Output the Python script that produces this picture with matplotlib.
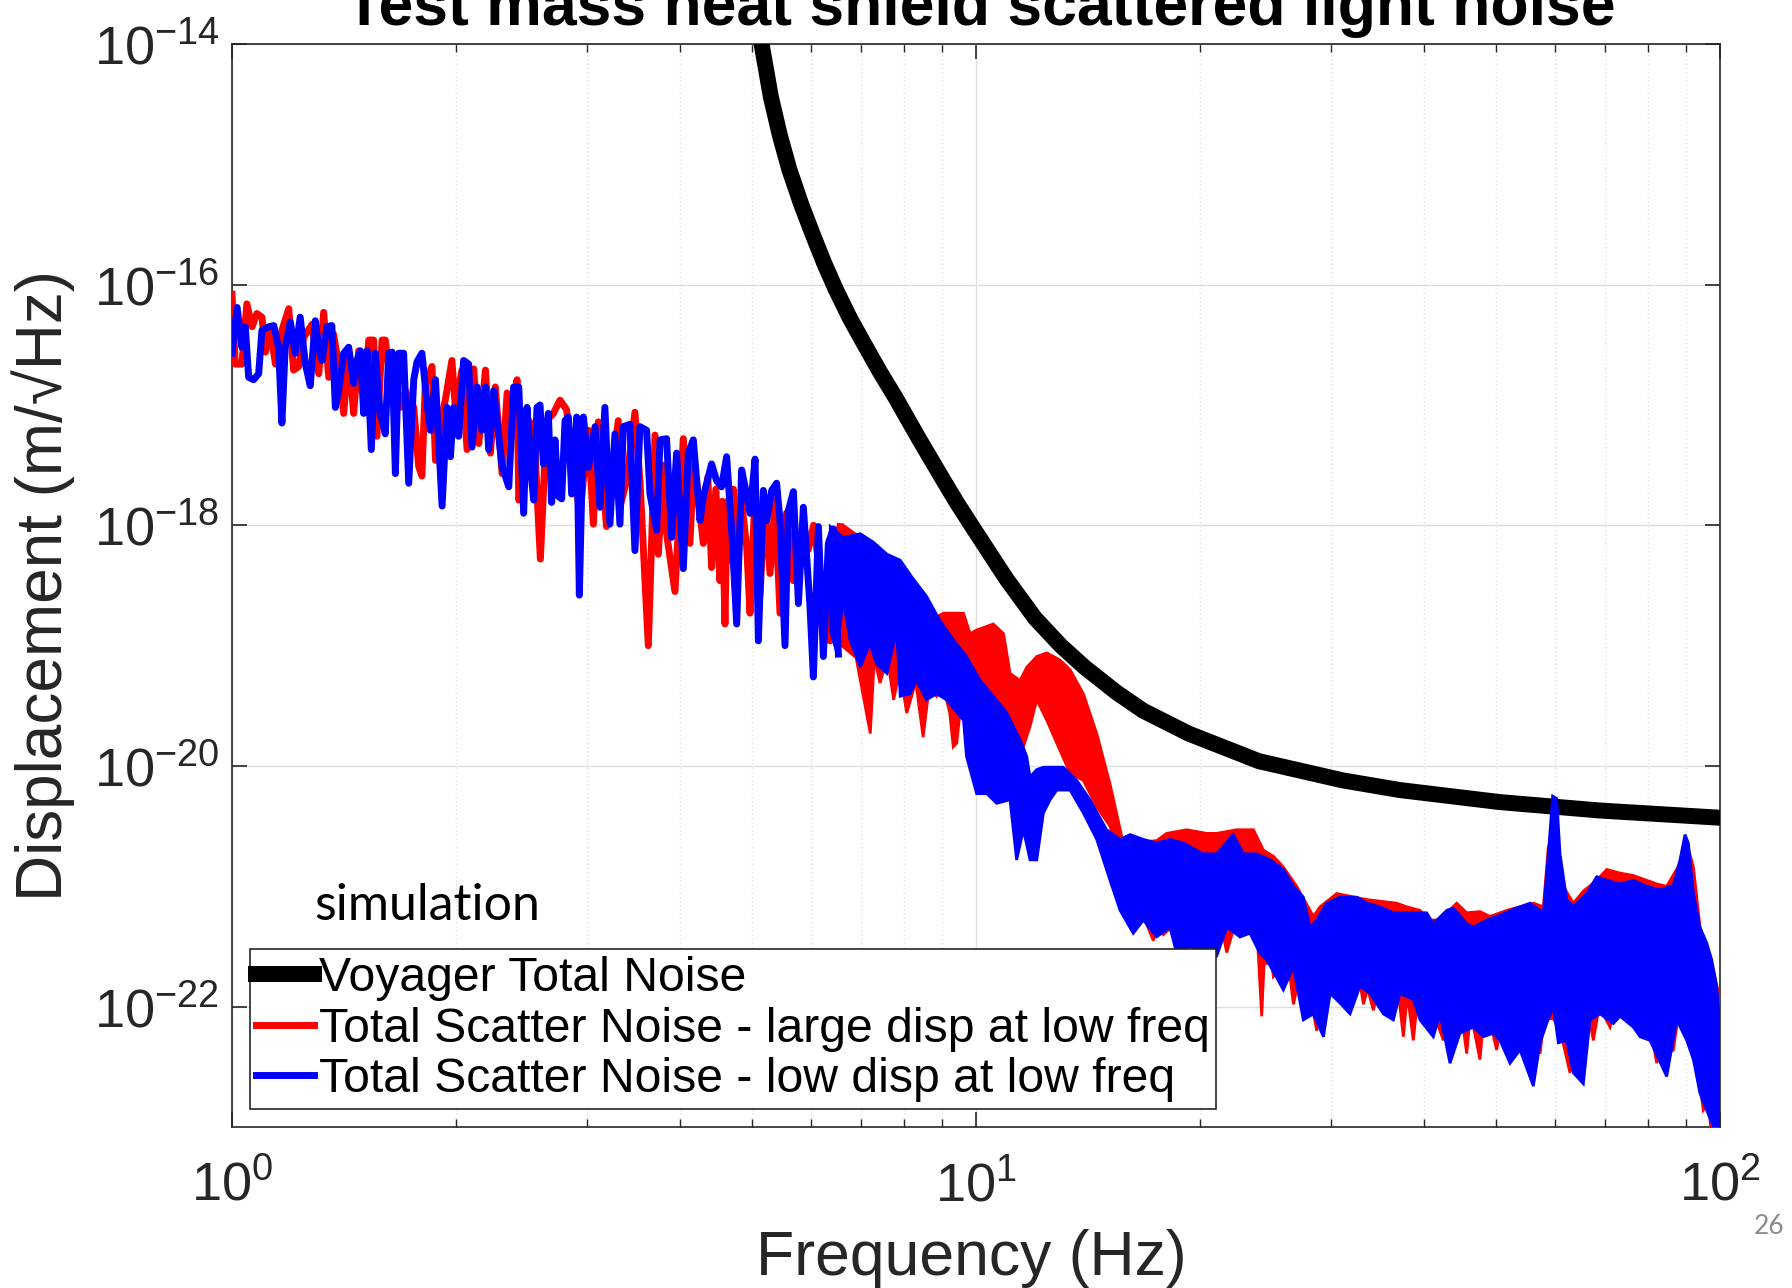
import numpy as np
import matplotlib
matplotlib.use('Agg')
import matplotlib.pyplot as plt
from matplotlib.ticker import LogLocator, NullLocator

# values: (frequency Hz, log10 displacement)
voyager = [(5.05, -13.69), (5.15, -14.00), (5.30, -14.44), (5.45, -14.76), (5.61, -15.04),
           (5.82, -15.33), (6.04, -15.59), (6.25, -15.82), (6.48, -16.04), (6.77, -16.28),
           (7.07, -16.49), (7.42, -16.72), (7.78, -16.93), (8.38, -17.28), (8.99, -17.60),
           (9.42, -17.81), (9.86, -18.00), (10.4, -18.22), (11.0, -18.45), (12.0, -18.77),
           (13.0, -19.00), (14.0, -19.18), (15.46, -19.39), (16.77, -19.54), (19.3, -19.73),
           (24.0, -19.96), (31.14, -20.12), (37.14, -20.20), (50.61, -20.30), (68.99, -20.37),
           (100.0, -20.43)]

# low frequency part, single trace
red_low = [(1.000, -16.08), (1.010, -16.66), (1.031, -16.66), (1.047, -16.16), (1.064, -16.35),
           (1.080, -16.24), (1.097, -16.27), (1.109, -16.56), (1.126, -16.38), (1.144, -16.66),
           (1.167, -16.38), (1.192, -16.20), (1.210, -16.71), (1.229, -16.68), (1.248, -16.44),
           (1.281, -16.33), (1.308, -16.74), (1.328, -16.23), (1.349, -16.77), (1.369, -16.41),
           (1.391, -16.66), (1.413, -17.07), (1.435, -16.55), (1.457, -17.07), (1.480, -16.55),
           (1.511, -16.82), (1.527, -16.46), (1.550, -16.46), (1.566, -17.26), (1.591, -16.46),
           (1.607, -16.46), (1.632, -16.79), (1.658, -16.85), (1.684, -17.02), (1.710, -16.88),
           (1.755, -17.02), (1.782, -17.51), (1.800, -17.59), (1.819, -16.82), (1.857, -16.68),
           (1.877, -17.46), (1.905, -17.15), (1.935, -16.96), (1.975, -16.63), (1.996, -17.02),
           (2.037, -16.71), (2.070, -17.37), (2.113, -16.70), (2.146, -17.32), (2.191, -16.71),
           (2.225, -17.40), (2.259, -16.85), (2.307, -17.57), (2.343, -16.90), (2.379, -17.26),
           (2.416, -16.79), (2.429, -17.79), (2.466, -17.62), (2.505, -17.13), (2.544, -17.18),
           (2.597, -18.28), (2.648, -17.13), (2.703, -17.07), (2.760, -16.96), (2.817, -17.04),
           (2.876, -17.54), (2.936, -17.90), (3.013, -17.21), (3.060, -17.99), (3.107, -17.14),
           (3.187, -18.01), (3.305, -17.13), (3.322, -17.85), (3.391, -17.63), (3.480, -17.06),
           (3.534, -17.63), (3.627, -19.00), (3.703, -17.25), (3.741, -18.24), (3.80, -17.50),
           (3.838, -18.07), (3.939, -18.55), (4.042, -17.28), (4.126, -18.15), (4.17, -17.50),
           (4.212, -17.63), (4.300, -18.15), (4.36, -17.60), (4.412, -18.35), (4.47, -17.70),
           (4.527, -18.46), (4.56, -17.80), (4.598, -18.82), (4.63, -17.80), (4.670, -18.29),
           (4.72, -17.70), (4.768, -18.54), (4.84, -17.80), (4.918, -18.18), (4.969, -18.73),
           (5.05, -17.70), (5.126, -18.57), (5.20, -17.80), (5.286, -18.40), (5.37, -17.80),
           (5.452, -18.73), (5.56, -17.90), (5.683, -18.46), (5.861, -17.99), (5.95, -18.20),
           (6.05, -18.00), (6.20, -18.50), (6.365, -18.96), (6.566, -18.01)]

blue_low = [(1.000, -16.57), (1.016, -16.19), (1.031, -16.52), (1.042, -16.35), (1.053, -16.77),
            (1.069, -16.79), (1.086, -16.74), (1.097, -16.38), (1.120, -16.35), (1.138, -16.34),
            (1.155, -16.52), (1.167, -17.15), (1.179, -16.52), (1.198, -16.31), (1.216, -16.57),
            (1.235, -16.27), (1.255, -16.66), (1.274, -16.84), (1.294, -16.30), (1.308, -16.52),
            (1.321, -16.63), (1.342, -16.35), (1.362, -16.34), (1.377, -17.02), (1.391, -16.88),
            (1.413, -16.57), (1.435, -16.52), (1.457, -16.82), (1.472, -16.63), (1.488, -16.55),
            (1.503, -17.07), (1.519, -16.55), (1.539, -17.37), (1.558, -16.57), (1.582, -17.07),
            (1.607, -17.24), (1.624, -16.57), (1.641, -16.56), (1.658, -17.57), (1.675, -16.57),
            (1.701, -16.57), (1.728, -17.65), (1.755, -16.79), (1.773, -16.64), (1.800, -16.57),
            (1.829, -16.99), (1.848, -17.21), (1.877, -16.79), (1.916, -17.84), (1.945, -17.02),
            (1.966, -17.43), (1.986, -17.02), (2.017, -17.26), (2.048, -16.63), (2.080, -16.66),
            (2.102, -17.35), (2.135, -16.85), (2.168, -17.21), (2.191, -16.85), (2.213, -17.37),
            (2.248, -16.88), (2.307, -17.51), (2.355, -17.68), (2.391, -16.85), (2.429, -16.85),
            (2.466, -17.90), (2.492, -17.02), (2.518, -17.51), (2.544, -17.79), (2.570, -17.02),
            (2.594, -17.00), (2.621, -17.49), (2.662, -17.07), (2.689, -17.81), (2.717, -17.29),
            (2.746, -17.76), (2.774, -17.78), (2.803, -17.13), (2.832, -17.10), (2.861, -17.74),
            (2.906, -17.10), (2.930, -18.58), (2.967, -17.10), (3.013, -17.52), (3.076, -17.18),
            (3.123, -17.85), (3.171, -17.02), (3.221, -17.99), (3.271, -17.24), (3.322, -17.99),
            (3.357, -17.18), (3.426, -17.16), (3.480, -18.21), (3.534, -17.18), (3.608, -17.21),
            (3.646, -17.74), (3.722, -18.04), (3.761, -17.29), (3.838, -17.28), (3.898, -18.10),
            (3.959, -17.40), (4.042, -18.36), (4.105, -17.40), (4.169, -17.29), (4.256, -17.96),
            (4.300, -17.76), (4.412, -17.49), (4.481, -17.63), (4.550, -17.68), (4.622, -17.43),
            (4.695, -18.04), (4.768, -18.82), (4.842, -17.54), (4.893, -17.68), (4.969, -17.90),
            (5.047, -17.45), (5.099, -18.96), (5.178, -17.71), (5.232, -17.96), (5.314, -17.71),
            (5.395, -17.65), (5.452, -17.96), (5.537, -19.00), (5.594, -17.88), (5.683, -17.72),
            (5.772, -18.65), (5.861, -17.85), (5.983, -18.68), (6.045, -19.26), (6.140, -18.01),
            (6.235, -19.09), (6.332, -18.15), (6.431, -18.03), (6.532, -19.07)]

# dense part above ~6 Hz: upper and lower edge of each trace
red_top = [(6.37, -18.05), (6.63, -18.00), (6.99, -18.10), (7.28, -18.17), (7.59, -18.27),
           (7.91, -18.32), (8.20, -18.45), (8.58, -18.62), (8.85, -18.76), (9.04, -18.73),
           (9.32, -18.73), (9.62, -18.73), (9.82, -18.90), (10.02, -18.87), (10.55, -18.82),
           (10.89, -18.90), (11.11, -19.23), (11.46, -19.29), (11.70, -19.18), (12.07, -19.09),
           (12.45, -19.06), (12.97, -19.12), (13.38, -19.20), (13.94, -19.40), (14.53, -19.73),
           (15.14, -20.15), (15.46, -20.40), (15.78, -20.65), (16.11, -20.60), (16.79, -20.63),
           (17.49, -20.62), (18.04, -20.56), (19.19, -20.53), (20.42, -20.56), (21.06, -20.56),
           (22.40, -20.53), (23.60, -20.53), (24.34, -20.70), (25.10, -20.75), (25.89, -20.84),
           (26.98, -21.00), (28.41, -21.25), (29.00, -21.17), (30.54, -21.06), (33.51, -21.11),
           (36.76, -21.14), (37.92, -21.17), (39.52, -21.20), (40.76, -21.28), (42.04, -21.28),
           (44.27, -21.14), (45.66, -21.22), (47.58, -21.21), (49.07, -21.25), (51.67, -21.20),
           (56.12, -21.14), (57.89, -21.17), (58.79, -20.67), (60.33, -20.59), (61.58, -21.00),
           (63.52, -21.14), (65.51, -21.04), (68.27, -20.95), (70.43, -20.86), (73.39, -20.89),
           (76.48, -20.91), (79.70, -20.95), (82.21, -20.98), (84.79, -21.00), (88.36, -20.81),
           (90.21, -20.64), (92.10, -20.84), (93.99, -21.34), (97.97, -21.70), (100.0, -21.94)]

red_bottom = [(6.37, -18.87), (6.60, -19.00), (6.90, -19.10), (7.21, -19.73), (7.30, -19.10),
              (7.43, -19.31), (7.60, -19.10), (7.75, -19.45), (7.90, -19.20), (8.07, -19.56),
              (8.30, -19.30), (8.49, -19.76), (8.65, -19.35), (8.85, -19.42), (9.00, -19.30),
              (9.22, -19.56), (9.32, -19.84), (9.42, -19.81), (9.60, -19.35), (9.82, -19.29),
              (10.23, -19.40), (10.66, -19.45), (11.11, -19.73), (11.58, -19.84), (11.82, -19.67),
              (12.07, -19.45), (12.45, -19.62), (12.84, -19.81), (13.38, -20.06), (13.94, -20.12),
              (14.53, -20.34), (15.14, -20.50), (15.62, -20.80), (16.27, -21.30), (16.79, -21.25),
              (17.31, -21.45), (17.60, -21.30), (17.86, -21.40), (18.23, -21.35), (18.61, -21.50),
              (19.39, -21.45), (20.42, -21.58), (20.80, -21.45), (21.06, -21.55), (21.40, -21.35),
              (21.73, -21.55), (22.20, -21.35), (22.64, -21.42), (23.35, -21.38), (23.90, -21.45),
              (24.21, -22.08), (24.45, -21.50), (24.59, -21.65), (24.85, -21.55), (25.10, -21.75),
              (25.50, -21.70), (25.89, -21.85), (26.30, -21.65), (26.71, -21.98), (27.10, -21.80),
              (27.54, -22.05), (28.10, -21.90), (28.71, -22.20), (29.00, -21.95), (29.31, -22.15),
              (29.92, -21.85), (30.40, -21.85), (31.17, -21.83), (32.00, -21.85), (32.82, -21.80),
              (33.17, -21.98), (33.60, -21.85), (34.20, -22.03), (34.60, -21.90), (35.28, -22.00),
              (35.80, -21.95), (36.39, -22.05), (36.90, -21.85), (37.53, -22.25), (38.00, -21.90),
              (38.71, -22.28), (39.20, -21.95), (40.34, -21.94), (41.50, -22.10), (42.47, -22.28),
              (43.00, -22.00), (44.27, -22.11), (45.00, -22.10), (45.66, -22.39), (46.20, -22.05),
              (47.58, -22.44), (48.10, -22.10), (49.00, -22.10), (50.09, -22.36), (50.80, -22.15),
              (51.67, -22.22), (53.00, -22.20), (54.98, -22.36), (55.60, -22.20), (57.30, -22.39),
              (58.00, -22.10), (59.70, -22.10), (61.00, -22.20), (62.86, -22.55), (63.80, -22.30),
              (65.50, -22.40), (66.50, -22.05), (67.58, -22.28), (68.80, -22.00), (71.16, -22.17),
              (72.50, -22.00), (76.48, -22.06), (78.50, -22.10), (80.50, -22.15), (82.21, -22.47),
              (83.50, -22.20), (84.79, -22.40), (86.56, -22.36), (88.00, -22.05), (90.21, -22.20),
              (92.10, -22.44), (93.20, -22.50), (94.97, -22.86), (96.50, -22.80), (97.50, -23.10),
              (100.0, -23.30)]

blue_top = [(6.37, -18.01), (6.63, -18.10), (6.99, -18.07), (7.28, -18.14), (7.59, -18.24),
            (7.91, -18.29), (8.20, -18.43), (8.58, -18.59), (8.94, -18.79), (9.32, -18.95),
            (9.71, -19.09), (10.13, -19.29), (10.55, -19.42), (11.00, -19.56), (11.46, -19.78),
            (11.70, -19.92), (11.82, -20.09), (12.07, -20.03), (12.32, -20.01), (13.10, -20.01),
            (13.66, -20.12), (14.23, -20.28), (14.98, -20.53), (15.62, -20.61), (16.11, -20.57),
            (16.79, -20.61), (17.49, -20.64), (18.23, -20.61), (19.00, -20.64), (19.80, -20.70),
            (20.21, -20.73), (21.06, -20.73), (22.17, -20.57), (22.87, -20.73), (23.84, -20.73),
            (24.85, -20.78), (25.89, -20.86), (26.71, -21.00), (27.54, -21.09), (28.12, -21.34),
            (28.71, -21.28), (29.61, -21.14), (30.85, -21.09), (32.49, -21.09), (33.51, -21.14),
            (34.92, -21.17), (36.39, -21.22), (38.31, -21.22), (40.34, -21.22), (41.18, -21.31),
            (42.92, -21.20), (43.81, -21.18), (45.66, -21.31), (46.61, -21.34), (48.57, -21.28),
            (50.61, -21.24), (53.30, -21.18), (55.55, -21.14), (57.89, -21.22), (58.79, -20.73),
            (59.58, -20.25), (60.33, -20.27), (60.95, -20.73), (62.22, -21.11), (63.52, -21.17),
            (66.20, -21.06), (68.27, -20.92), (70.43, -20.95), (73.39, -20.98), (76.48, -20.95),
            (79.70, -21.00), (83.07, -21.03), (86.56, -20.99), (88.36, -20.78), (89.74, -20.57),
            (90.67, -20.64), (92.10, -21.06), (93.99, -21.34), (95.96, -21.47), (97.46, -21.61),
            (98.97, -21.83), (100.0, -22.17)]

blue_bottom = [(6.37, -18.87), (6.50, -19.06), (6.63, -18.62), (6.77, -18.95), (6.99, -19.18),
               (7.20, -18.98), (7.35, -19.15), (7.59, -19.23), (7.82, -18.87), (7.91, -19.42),
               (8.15, -19.40), (8.32, -19.29), (8.58, -19.45), (8.85, -19.40), (9.13, -19.45),
               (9.62, -19.62), (9.71, -19.92), (10.02, -20.23), (10.34, -20.23), (10.66, -20.31),
               (11.11, -20.28), (11.34, -20.78), (11.58, -20.53), (11.82, -20.78), (12.07, -20.78),
               (12.32, -20.39), (12.58, -20.28), (12.84, -20.20), (13.38, -20.20), (13.94, -20.39),
               (14.53, -20.61), (15.14, -20.95), (15.62, -21.20), (16.27, -21.39), (16.79, -21.28),
               (17.49, -21.42), (18.23, -21.34), (18.61, -21.56), (19.39, -21.50), (20.21, -21.56),
               (21.06, -21.58), (21.73, -21.34), (22.64, -21.42), (23.35, -21.39), (24.09, -21.56),
               (24.59, -21.61), (25.89, -21.86), (26.71, -21.67), (27.54, -22.11), (28.41, -22.06),
               (29.31, -22.25), (29.92, -21.89), (30.85, -21.97), (31.82, -22.06), (32.82, -21.83),
               (33.86, -21.89), (35.28, -22.06), (36.39, -22.11), (37.14, -21.89), (38.71, -21.94),
               (39.52, -22.11), (41.18, -22.25), (42.04, -22.06), (43.36, -22.47), (44.72, -22.22),
               (46.61, -22.17), (48.07, -22.25), (49.58, -22.22), (50.61, -22.28), (52.21, -22.47),
               (53.86, -22.36), (56.12, -22.66), (57.30, -22.30), (58.48, -22.14), (59.70, -22.00),
               (60.64, -22.30), (62.22, -22.28), (63.52, -22.55), (65.51, -22.64), (66.88, -22.11),
               (68.99, -22.06), (71.89, -22.14), (73.39, -22.08), (76.48, -22.17), (78.08, -22.25),
               (80.53, -22.28), (84.79, -22.58), (87.46, -22.11), (90.21, -22.28), (92.10, -22.44),
               (93.99, -22.72), (95.96, -22.86), (97.97, -23.00), (100.0, -23.20)]

labels = ['Voyager Total Noise',
          'Total Scatter Noise - large disp at low freq',
          'Total Scatter Noise - low disp at low freq']


def xy(pairs):
    a = np.array(pairs)
    return a[:, 0], 10.0 ** a[:, 1]


def band(ax, top, bottom, color, z):
    ft, yt = xy(top)
    fb, yb = xy(bottom)
    ax.fill(np.r_[ft, fb[::-1]], np.r_[yt, yb[::-1]], color=color, lw=2, zorder=z)


plt.rcParams['font.family'] = ['Liberation Sans', 'DejaVu Sans']
plt.rcParams['mathtext.fontset'] = 'custom'
plt.rcParams['mathtext.rm'] = 'Liberation Sans'
plt.rcParams['mathtext.it'] = 'Liberation Sans:italic'
plt.rcParams['mathtext.bf'] = 'Liberation Sans:bold'
plt.rcParams['axes.unicode_minus'] = False

fig = plt.figure(figsize=(17.92, 12.88), dpi=100)
ax = fig.add_axes([232/1792, 1-1127/1288, 1488/1792, 1083/1288])
ax.set_xscale('log')
ax.set_yscale('log')

h0, = ax.plot(*xy(voyager), color='black', lw=11.5, zorder=3, label=labels[0],
              solid_joinstyle='round')
h1, = ax.plot(*xy(red_low), color='#ff0000', lw=5, zorder=4, label=labels[1])
band(ax, red_top, red_bottom, '#ff0000', 4)
h2, = ax.plot(*xy(blue_low), color='#0000ff', lw=5, zorder=5, label=labels[2])
band(ax, blue_top, blue_bottom, '#0000ff', 5)

ax.set_xlim(1, 100)
ax.set_ylim(1e-23, 1e-14)
ax.set_xticks([1, 10, 100])
ax.xaxis.set_minor_locator(LogLocator(base=10, subs=np.arange(2, 10)))
ax.set_yticks([1e-22, 1e-20, 1e-18, 1e-16, 1e-14])
ax.yaxis.set_minor_locator(NullLocator())

ax.tick_params(which='both', direction='in', top=True, right=True, color='#262626',
               labelsize=39, labelcolor='#262626')
ax.tick_params(which='major', length=11, width=1.2)
ax.tick_params(which='minor', length=5.5, width=1)
ax.tick_params(axis='x', pad=24)
ax.tick_params(axis='y', pad=9)
for s in ax.spines.values():
    s.set_color('#262626')
    s.set_linewidth(1.2)

ax.grid(which='major', color='#dedede', lw=1.0)
ax.grid(which='minor', axis='x', color='#e2e2e2', ls=(0, (1, 2)), lw=1.0)
ax.set_axisbelow(True)

ax.set_xlabel('Frequency (Hz)', fontsize=45, color='#262626')
ax.xaxis.set_label_coords(0.497, -0.094)
ax.set_ylabel('Displacement (m/\u221aHz)', fontsize=46, color='#262626')
ax.yaxis.set_label_coords(-0.1055, 0.5)

fig.text(980/1792, 1-25/1288, 'Test mass heat shield scattered light noise',
         ha='center', va='baseline', fontsize=45, fontweight='bold')

ax.text(0.0551, 0.191, 'simulation', transform=ax.transAxes, fontsize=36,
        family=['Lato', 'DejaVu Sans'], va='baseline')

leg = ax.legend([h0, h1, h2], labels, loc='lower left', bbox_to_anchor=(0.012, 0.017),
                borderaxespad=0, fontsize=34.7, handlelength=1.2, handletextpad=0.1,
                labelspacing=0.12, borderpad=0.13, fancybox=False, edgecolor='#262626',
                framealpha=1)
leg.get_frame().set_linewidth(1.2)
leg.set_zorder(10)

fig.text(1769/1792, 1-1226/1288, '26', ha='center', va='center', fontsize=19,
         color='#8c8c8c', family=['Lato', 'DejaVu Sans'])

fig.savefig('out.png', dpi=100)
